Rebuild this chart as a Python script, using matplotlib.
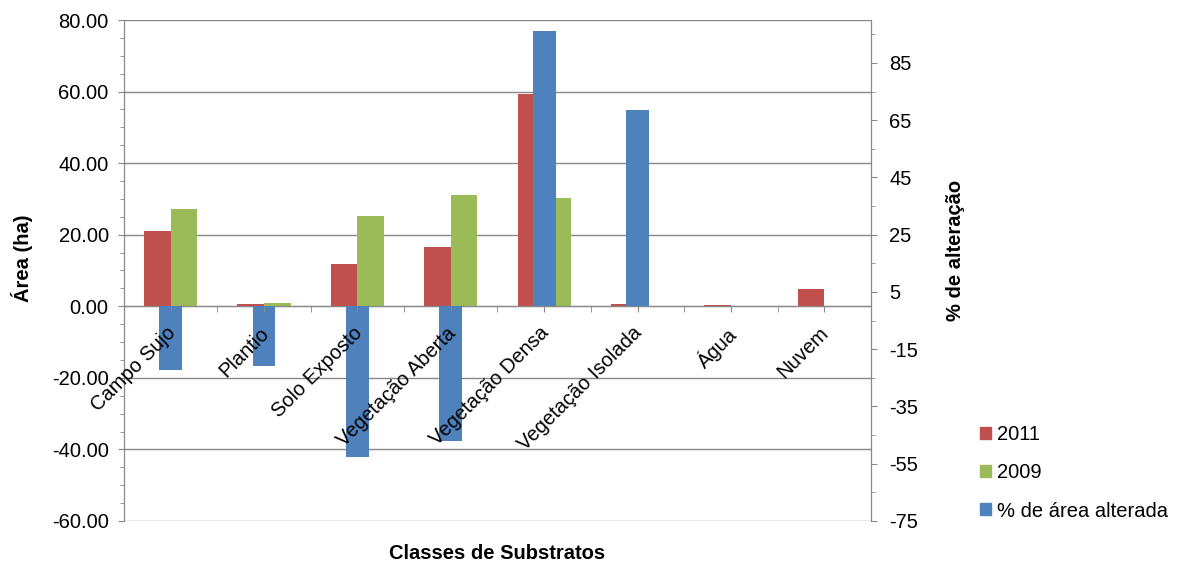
import numpy as np
import matplotlib
matplotlib.use("Agg")
import matplotlib.pyplot as plt
from matplotlib.patches import Patch
from matplotlib.transforms import ScaledTranslation
from matplotlib.ticker import FixedLocator, MultipleLocator, FormatStrFormatter

plt.rcParams['font.family'] = ['Liberation Sans', 'DejaVu Sans']
plt.rcParams['axes.unicode_minus'] = False

classes = ['Campo Sujo', 'Plantio', 'Solo Exposto', 'Vegetação Aberta',
           'Vegetação Densa', 'Vegetação Isolada', 'Água', 'Nuvem']
area_2011 = [20.9, 0.75, 11.8, 16.5, 59.4, 0.5, 0.4, 4.9]
area_2009 = [27.2, 1.0, 25.1, 31.2, 30.2, 0.2, 0.0, 0.0]
pct_alterada = [-22.1, -20.7, -52.6, -47.2, 96.1, 68.6, 0.0, 0.0]

red = '#C0504D'
green = '#9BBB59'
blue = '#4F81BD'
gray = '#888888'
fs = 14.5

fig = plt.figure(figsize=(11.84, 5.70), dpi=100)
ax = fig.add_axes([0.1047, 0.0860, 0.6309, 0.8789])
ax2 = ax.twinx()

x = np.arange(len(classes))
w = 0.285
ax.bar(x - w / 2, area_2011, w, color=red, zorder=3)
ax.bar(x + w / 2, area_2009, w, color=green, zorder=3)
ax2.bar(x, pct_alterada, 0.245, color=blue, zorder=3)

# left axis: area
ax.set_ylim(-60, 80)
ax.yaxis.set_major_locator(MultipleLocator(20))
ax.yaxis.set_minor_locator(MultipleLocator(5))
ax.yaxis.set_major_formatter(FormatStrFormatter('%.2f'))
ax.grid(axis='y', color=gray, linewidth=1, zorder=0)
ax.set_axisbelow(True)
ax.set_ylabel('Área (ha)', fontsize=fs, fontweight='bold')
ax.yaxis.set_label_coords(-0.122, 0.525)

# right axis: percent
ax2.set_ylim(-75, 100)
ax2.yaxis.set_major_locator(FixedLocator(np.arange(-75, 86, 20)))
ax2.yaxis.set_minor_locator(FixedLocator(np.arange(-75, 101, 10)))
ax2.set_ylabel('% de alteração', fontsize=fs, fontweight='bold')
ax2.yaxis.set_label_coords(1.101, 0.54)

# category axis sits on the zero line, drawn above the bars
ax.set_xlim(-0.5, len(classes) - 0.5)
ax.tick_params(axis='x', which='both', bottom=False, labelbottom=False)
ax.spines['bottom'].set_visible(False)
ax2.xaxis.set_visible(True)
ax2.spines['bottom'].set_visible(True)
ax2.spines['bottom'].set_position(('data', 0))
ax2.xaxis.set_zorder(5)
ax2.set_xticks(x)
ax2.set_xticks(np.arange(-0.5, len(classes), 1.0), minor=True)
ax2.tick_params(axis='x', which='both', direction='out', length=4,
                color=gray, pad=4)
ax.tick_params(axis='y', which='major', direction='out', length=4,
               color=gray, labelsize=fs, pad=7)
ax.tick_params(axis='y', which='minor', direction='out', length=3,
               color=gray)
ax2.tick_params(axis='y', which='major', direction='out', length=4,
                color=gray, labelsize=fs, pad=9)
ax2.tick_params(axis='y', which='minor', direction='out', length=3,
                color=gray)

ax2.set_xticklabels(classes, rotation=45, ha='right', va='top',
                    rotation_mode='anchor', fontsize=fs)
shift = ScaledTranslation(-0.05, -0.06, fig.dpi_scale_trans)
for lbl in ax2.xaxis.get_majorticklabels():
    lbl.set_transform(lbl.get_transform() + shift)

for a in (ax, ax2):
    a.spines['top'].set_visible(False)
    for s in a.spines.values():
        s.set_color(gray)

ax.set_xlabel('Classes de Substratos', fontsize=fs, fontweight='bold')
ax.xaxis.set_label_coords(0.5, -0.045)

handles = [Patch(color=red, label='2011'),
           Patch(color=green, label='2009'),
           Patch(color=blue, label='% de área alterada')]
fig.legend(handles=handles, loc='lower left', bbox_to_anchor=(0.812, 0.055),
           frameon=False, fontsize=fs, handlelength=0.55, handleheight=0.55,
           handletextpad=0.3, labelspacing=0.95)

fig.savefig('out.png', dpi=100)
